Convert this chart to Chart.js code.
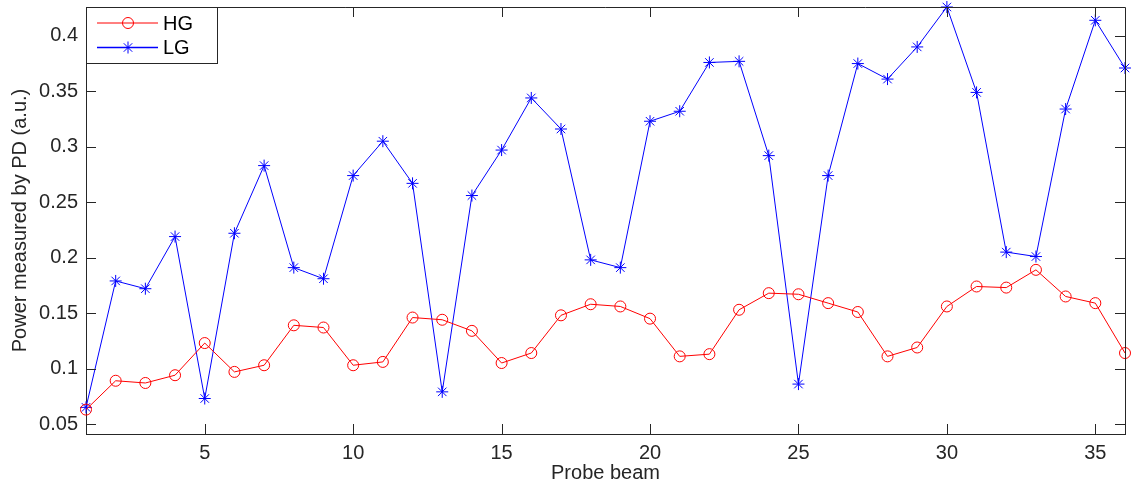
<!DOCTYPE html>
<html>
<head>
<meta charset="utf-8">
<title>Power measured by PD</title>
<script src="https://cdn.jsdelivr.net/npm/chart.js@4/dist/chart.umd.min.js"></script>
<style>
  html, body { margin: 0; padding: 0; background: #ffffff; }
  #wrap { width: 1132px; height: 487px; }
</style>
</head>
<body>
<div id="wrap"><canvas id="pd-chart" width="1132" height="487"></canvas></div>
<script>
// Probe beam index and the measured photodiode power for both modes
const probeBeams = [1, 2, 3, 4, 5, 6, 7, 8, 9, 10, 11, 12, 13, 14, 15, 16, 17, 18,
  19, 20, 21, 22, 23, 24, 25, 26, 27, 28, 29, 30, 31, 32, 33, 34, 35, 36];

const hgPower = [0.063, 0.089, 0.087, 0.094, 0.123, 0.097, 0.103, 0.139, 0.137,
  0.103, 0.106, 0.146, 0.144, 0.134, 0.105, 0.114, 0.148, 0.158, 0.156, 0.145,
  0.111, 0.113, 0.153, 0.168, 0.167, 0.159, 0.151, 0.111, 0.119, 0.156, 0.174,
  0.173, 0.189, 0.165, 0.159, 0.114];

const lgPower = [0.065, 0.179, 0.172, 0.219, 0.073, 0.222, 0.283, 0.191, 0.181,
  0.274, 0.305, 0.267, 0.079, 0.256, 0.297, 0.344, 0.316, 0.198, 0.191, 0.323,
  0.332, 0.376, 0.377, 0.292, 0.086, 0.274, 0.375, 0.361, 0.390, 0.426, 0.349,
  0.205, 0.201, 0.334, 0.414, 0.371];

const xTickValues = [5, 10, 15, 20, 25, 30, 35];
const yTickValues = [0.05, 0.1, 0.15, 0.2, 0.25, 0.3, 0.35, 0.4];

const AXIS_COLOR = "#262626";
const TICK_LEN = 10;

const toPoints = (ys) => probeBeams.map((x, i) => ({ x: x, y: ys[i] }));

// Draws matlab-style box: inward ticks on all four sides, top/right edges, legend
const boxAxesPlugin = {
  id: "boxAxes",
  afterDraw(chart) {
    const { ctx, chartArea: a, scales } = chart;
    ctx.save();
    ctx.strokeStyle = AXIS_COLOR;
    ctx.lineWidth = 1;
    ctx.beginPath();
    ctx.moveTo(a.left, a.top + 0.5);
    ctx.lineTo(a.right + 0.5, a.top + 0.5);
    ctx.lineTo(a.right + 0.5, a.bottom);
    scales.x.ticks.forEach((t) => {
      const px = Math.round(scales.x.getPixelForValue(t.value)) + 0.5;
      ctx.moveTo(px, a.bottom);
      ctx.lineTo(px, a.bottom - TICK_LEN);
      ctx.moveTo(px, a.top);
      ctx.lineTo(px, a.top + TICK_LEN);
    });
    scales.y.ticks.forEach((t) => {
      const py = Math.round(scales.y.getPixelForValue(t.value)) + 0.5;
      ctx.moveTo(a.left, py);
      ctx.lineTo(a.left + TICK_LEN, py);
      ctx.moveTo(a.right, py);
      ctx.lineTo(a.right - TICK_LEN, py);
    });
    ctx.stroke();

    // legend box in the upper-left corner
    const lx = a.left, ly = a.top, lw = 131, lh = 56;
    ctx.fillStyle = "#ffffff";
    ctx.fillRect(lx, ly, lw, lh);
    ctx.strokeRect(lx + 0.5, ly + 0.5, lw, lh);
    ctx.font = "20px 'Liberation Sans', Arial, sans-serif";
    ctx.textBaseline = "middle";
    chart.data.datasets.forEach((ds, i) => {
      const cy = ly + 16 + i * 24.5;
      ctx.strokeStyle = ds.borderColor;
      ctx.lineWidth = i === 0 ? 1 : 1.5;
      ctx.beginPath();
      ctx.moveTo(lx + 11, cy);
      ctx.lineTo(lx + 72, cy);
      ctx.stroke();
      const mx = lx + 42, r = ds.pointRadius;
      ctx.lineWidth = 1;
      ctx.beginPath();
      if (ds.pointStyle === "circle") {
        ctx.arc(mx, cy, r, 0, Math.PI * 2);
      } else {
        for (let k = 0; k < 4; k++) {
          const ang = (k * Math.PI) / 4;
          ctx.moveTo(mx - r * Math.cos(ang), cy - r * Math.sin(ang));
          ctx.lineTo(mx + r * Math.cos(ang), cy + r * Math.sin(ang));
        }
      }
      ctx.stroke();
      ctx.fillStyle = "#000000";
      ctx.fillText(ds.label, lx + 77, cy + 1);
    });
    ctx.restore();
  },
};

Chart.defaults.font.family = "'Liberation Sans', Arial, sans-serif";
Chart.defaults.font.size = 20;
Chart.defaults.color = AXIS_COLOR;

new Chart(document.getElementById("pd-chart").getContext("2d"), {
  type: "line",
  data: {
    datasets: [
      {
        label: "HG",
        data: toPoints(hgPower),
        borderColor: "#ff0000",
        backgroundColor: "rgba(0,0,0,0)",
        borderWidth: 1,
        pointStyle: "circle",
        pointRadius: 5.5,
        pointBorderWidth: 1,
        pointBorderColor: "#ff0000",
        pointBackgroundColor: "rgba(0,0,0,0)",
        tension: 0,
      },
      {
        label: "LG",
        data: toPoints(lgPower),
        borderColor: "#0000ff",
        backgroundColor: "rgba(0,0,0,0)",
        borderWidth: 1,
        pointStyle: "star",
        pointRadius: 6,
        pointBorderWidth: 1,
        pointBorderColor: "#0000ff",
        pointBackgroundColor: "#0000ff",
        tension: 0,
      },
    ],
  },
  options: {
    responsive: false,
    animation: false,
    devicePixelRatio: 1,
    clip: false,
    layout: { padding: { left: 0, top: 5, right: 3, bottom: 0 } },
    plugins: {
      legend: { display: false },
      tooltip: { enabled: false },
    },
    scales: {
      x: {
        type: "linear",
        min: 1,
        max: 36,
        grid: { display: false, drawTicks: false },
        border: { display: true, color: AXIS_COLOR, width: 1 },
        ticks: { padding: 7, maxRotation: 0, color: AXIS_COLOR },
        afterBuildTicks: (s) => { s.ticks = xTickValues.map((v) => ({ value: v })); },
        afterFit: (s) => {
          s.height = 53;
          s.paddingLeft = 0; s.paddingRight = 0;
        },
        title: {
          display: true,
          text: "Probe beam",
          color: AXIS_COLOR,
          padding: { top: 0, bottom: 2 },
        },
      },
      y: {
        type: "linear",
        min: 0.041,
        max: 0.426,
        grid: { display: false, drawTicks: false },
        border: { display: true, color: AXIS_COLOR, width: 1 },
        ticks: {
          padding: 8,
          color: AXIS_COLOR,
          callback: (v) => String(Number(v.toFixed(2))),
        },
        afterBuildTicks: (s) => { s.ticks = yTickValues.map((v) => ({ value: v })); },
        afterFit: (s) => {
          s.width = 86;
          s.paddingTop = 0; s.paddingBottom = 0;
        },
        title: {
          display: true,
          text: "Power measured by PD (a.u.)",
          color: AXIS_COLOR,
          padding: { top: 8, bottom: 0 },
        },
      },
    },
  },
  plugins: [boxAxesPlugin],
});
</script>
</body>
</html>
